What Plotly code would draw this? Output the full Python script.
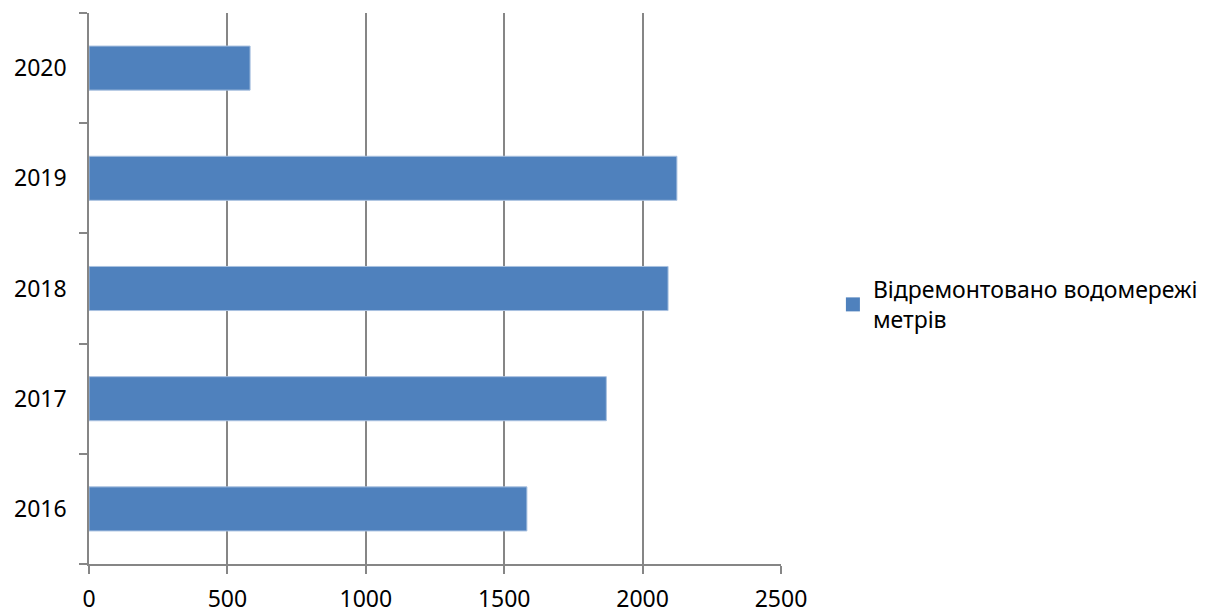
import plotly.graph_objects as go

years = ["2016", "2017", "2018", "2019", "2020"]
values = [1582, 1869, 2092, 2124, 582]
series_name = "Відремонтовано водомережі<br>метрів"
x_ticks = [0, 500, 1000, 1500, 2000, 2500]

FONT = "Noto Sans"
GRAY = "#868686"
BLUE = "#4F81BD"

fig = go.Figure()
fig.add_trace(go.Bar(
    y=years, x=values, orientation="h", name=series_name,
    marker=dict(color=BLUE, line=dict(color="#a9c1e0", width=1)),
    showlegend=False,
))
# legend entry with a larger square swatch
fig.add_trace(go.Scatter(
    x=[None], y=[None], mode="markers", name=series_name,
    marker=dict(symbol="square", size=14, color=BLUE),
    showlegend=True,
))

fig.update_layout(
    width=1212, height=607,
    margin=dict(l=81, r=439, t=5, b=51, autoexpand=False),
    paper_bgcolor="white", plot_bgcolor="white",
    bargap=0.6,
    font=dict(family=FONT, size=23, color="#000000"),
    showlegend=True,
    legend=dict(
        x=1.075, y=0.471, xanchor="left", yanchor="middle",
        font=dict(family=FONT, size=23, color="#000000"),
        itemwidth=30, bgcolor="rgba(0,0,0,0)",
    ),
    xaxis=dict(
        range=[0, 2500], tickvals=x_ticks, ticktext=[str(v) for v in x_ticks],
        showgrid=True, gridcolor=GRAY, gridwidth=1.5,
        showline=True, linecolor=GRAY, linewidth=1.5,
        ticks="outside", ticklen=8, tickcolor=GRAY, tickwidth=1.5,
        ticklabelstandoff=6, zeroline=False, fixedrange=True, automargin=False,
    ),
    yaxis=dict(
        type="category", categoryorder="array", categoryarray=years,
        range=[-0.5, 4.5],
        showgrid=False, showline=True, linecolor=GRAY, linewidth=1.5,
        ticks="outside", tickson="boundaries", ticklen=8, tickcolor=GRAY, tickwidth=1.5,
        ticklabelstandoff=16, zeroline=False, automargin=False,
    ),
)

fig.write_html("out.html")
